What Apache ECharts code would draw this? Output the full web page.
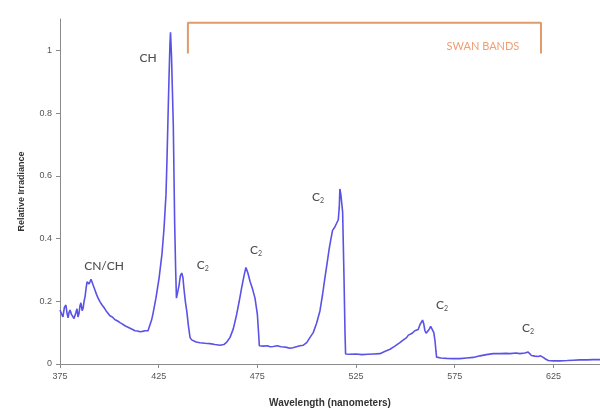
<!DOCTYPE html>
<html>
<head>
<meta charset="utf-8">
<script src="https://cdn.jsdelivr.net/npm/echarts@6/dist/echarts.min.js"></script>
<style>
html,body{margin:0;padding:0;background:#fff;}
#chart{width:600px;height:413px;}
</style>
</head>
<body>
<div id="chart"></div>
<script>
// Spectrum: wavelength (nm) and relative irradiance
const wavelength = [375.0,375.8,376.5,377.2,378.0,378.6,379.1,379.6,380.1,380.8,381.6,382.1,382.6,383.1,383.6,384.1,384.6,385.1,385.6,386.2,386.7,387.2,387.7,388.2,388.7,389.2,389.7,390.2,390.7,391.2,392.0,392.7,393.5,394.3,395.3,396.3,397.3,398.3,399.3,400.3,401.5,402.9,404.0,405.4,406.5,407.9,409.2,410.5,411.8,413.0,414.3,415.5,416.8,418.1,419.6,420.6,421.4,422.1,423.6,425.2,426.7,427.7,428.7,429.2,429.7,430.2,430.7,431.0,431.5,432.0,432.4,433.1,433.6,434.0,434.5,435.3,436.0,436.7,437.3,437.8,438.5,439.2,440.1,440.9,441.7,442.5,444.0,445.9,448.5,451.0,453.5,456.1,458.0,459.5,461.1,462.8,464.5,465.8,467.0,468.2,469.2,470.2,471.3,472.6,473.8,474.5,475.0,475.6,476.0,478.0,480.0,481.5,483.1,485.0,487.0,488.5,489.8,491.5,493.0,494.8,496.6,498.3,500.0,501.6,503.3,505.0,506.7,508.0,509.2,510.3,511.4,512.3,513.1,514.2,515.2,516.0,516.5,516.8,517.3,518.2,518.9,519.4,519.7,522.0,525.0,528.0,531.0,534.0,537.1,539.5,542.2,544.5,547.2,549.0,550.6,551.5,552.3,553.2,554.0,554.8,555.6,556.5,557.4,558.1,558.7,559.3,559.9,560.5,561.1,562.0,562.8,563.8,564.4,565.0,565.5,565.8,568.0,570.9,574.0,577.6,581.0,584.4,587.8,591.0,594.5,598.0,601.0,603.0,606.0,608.0,610.5,612.2,613.2,613.9,615.5,617.3,618.5,619.8,621.0,622.4,625.0,628.3,632.0,635.0,638.4,642.0,645.0,648.6];
const irradiance = [0.172,0.160,0.150,0.180,0.188,0.160,0.147,0.165,0.172,0.158,0.154,0.145,0.141,0.165,0.176,0.150,0.160,0.185,0.195,0.170,0.178,0.200,0.215,0.240,0.262,0.268,0.255,0.262,0.270,0.262,0.248,0.236,0.222,0.210,0.198,0.188,0.180,0.170,0.162,0.154,0.150,0.141,0.138,0.132,0.128,0.122,0.118,0.114,0.110,0.106,0.105,0.103,0.104,0.106,0.106,0.125,0.140,0.160,0.210,0.274,0.353,0.432,0.540,0.650,0.780,0.905,1.020,1.058,0.980,0.860,0.763,0.447,0.300,0.210,0.215,0.250,0.282,0.290,0.275,0.240,0.200,0.170,0.120,0.084,0.077,0.074,0.070,0.068,0.066,0.065,0.062,0.060,0.062,0.070,0.084,0.112,0.158,0.200,0.242,0.280,0.308,0.290,0.263,0.238,0.210,0.180,0.158,0.100,0.058,0.057,0.058,0.055,0.056,0.058,0.055,0.054,0.053,0.050,0.052,0.055,0.058,0.060,0.068,0.084,0.100,0.130,0.169,0.220,0.274,0.320,0.368,0.400,0.426,0.436,0.442,0.460,0.500,0.558,0.540,0.485,0.274,0.100,0.032,0.031,0.032,0.030,0.031,0.032,0.033,0.040,0.047,0.056,0.068,0.077,0.084,0.092,0.088,0.097,0.100,0.106,0.112,0.110,0.126,0.133,0.140,0.128,0.106,0.098,0.095,0.110,0.120,0.116,0.100,0.074,0.040,0.022,0.019,0.018,0.017,0.017,0.019,0.021,0.026,0.030,0.033,0.033,0.034,0.033,0.035,0.033,0.035,0.038,0.032,0.027,0.025,0.024,0.026,0.021,0.016,0.011,0.010,0.010,0.011,0.012,0.013,0.013,0.014,0.014];

// Axis ticks
const xTicks = [375, 425, 475, 525, 575, 625];
const yTicks = [0, 0.2, 0.4, 0.6, 0.8, 1];

// Band annotations
const labelText = ['CH', 'CN/CH', 'C2', 'C2', 'C2', 'C2', 'C2'];
const labelWl = [419.6, 397.3, 447.4, 474.3, 505.7, 568.5, 612.1];
const labelVal = [0.974, 0.311, 0.315, 0.362, 0.532, 0.188, 0.113];

// Swan bands bracket
const bracketWl = [439.8, 439.8, 618.7, 618.7];
const bracketVal = [0.99, 1.088, 1.088, 0.99];
const swanText = 'SWAN BANDS';
const swanWl = 589.3;
const swanVal = 1.012;

const chart = echarts.init(document.getElementById('chart'), null, {renderer: 'canvas'});
const font = '"Liberation Sans", Arial, sans-serif';
const annFont = 'Lato, "Open Sans", sans-serif';

function fmtLabel(t) {
  if (t === 'C2') return '{c|C}{s|2}';
  return '{n|' + t + '}';
}

chart.setOption({
  animation: false,
  backgroundColor: '#ffffff',
  grid: {left: 60, right: 0, top: 19, bottom: 46, containLabel: false},
  xAxis: {
    type: 'value', min: 375, max: 648.6,
    name: 'Wavelength (nanometers)', nameLocation: 'middle', nameGap: 34,
    nameTextStyle: {fontFamily: font, fontSize: 10, fontWeight: 'bold', color: '#333'},
    axisLine: {show: true, lineStyle: {color: '#8a8a8a', width: 1}},
    axisTick: {show: true, length: 4, customValues: xTicks, lineStyle: {color: '#8a8a8a'}},
    axisLabel: {customValues: xTicks, fontFamily: font, fontSize: 9, color: '#555', margin: 8},
    splitLine: {show: false}
  },
  yAxis: {
    type: 'value', min: 0, max: 1.1,
    name: 'Relative Irradiance', nameLocation: 'middle', nameGap: 34, nameRotate: 90,
    nameTextStyle: {fontFamily: font, fontSize: 9, fontWeight: 'bold', color: '#333'},
    axisLine: {show: true, lineStyle: {color: '#8a8a8a', width: 1}},
    axisTick: {show: true, length: 4, customValues: yTicks, lineStyle: {color: '#8a8a8a'}},
    axisLabel: {customValues: yTicks, fontFamily: font, fontSize: 9, color: '#555', margin: 8},
    splitLine: {show: false}
  },
  series: [
    {
      type: 'line', name: 'spectrum',
      data: wavelength.map((w, i) => [w, irradiance[i]]),
      showSymbol: false, symbol: 'none',
      lineStyle: {color: '#5a52e6', width: 1.6},
      z: 3
    },
    {
      type: 'line', name: 'bracket',
      data: bracketWl.map((w, i) => [w, bracketVal[i]]),
      showSymbol: false, symbol: 'none',
      lineStyle: {color: '#e19a6c', width: 2},
      z: 2
    },
    {
      type: 'scatter', name: 'labels',
      symbolSize: 0,
      data: labelWl.map((w, i) => ({value: [w, labelVal[i]], name: labelText[i]})),
      label: {
        show: true, position: 'inside',
        formatter: p => fmtLabel(p.name),
        rich: {
          n: {fontFamily: annFont, fontSize: 12, color: '#222', fontWeight: 500},
          c: {fontFamily: annFont, fontSize: 12, color: '#222', fontWeight: 500},
          s: {fontFamily: annFont, fontSize: 7, color: '#222', padding: [7, 0, 0, 0]}
        }
      },
      z: 4
    },
    {
      type: 'scatter', name: 'swan',
      symbolSize: 0,
      data: [{value: [swanWl, swanVal], name: swanText}],
      label: {
        show: true, position: 'inside', formatter: p => p.name,
        fontFamily: annFont, fontSize: 11, color: '#ee8650'
      },
      z: 4
    }
  ]
});
</script>
</body>
</html>
